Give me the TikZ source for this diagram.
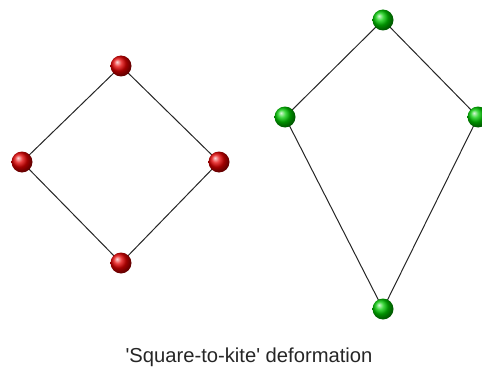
\documentclass[tikz,border=0pt]{standalone}
\usepackage{fontspec}
\setmainfont{Liberation Sans}
\usepackage{tikz}
\usetikzlibrary{positioning}

\begin{document}
\begin{tikzpicture}[
    x=1pt, y=-1pt,
    redball/.style={
        circle,
        minimum size=21pt,
        inner sep=0pt,
        ball color=red!90!black
    },
    greenball/.style={
        circle,
        minimum size=21pt,
        inner sep=0pt,
        ball color=green!80!black
    },
    edge/.style={
        draw=black!85,
        line width=1pt
    },
    caption/.style={
        font=\fontsize{20.2}{23}\selectfont,
        text=black!85,
        anchor=base
    }
]

    % Canvas
    \useasboundingbox (0,0) rectangle (482,369);
    \clip (0,0) rectangle (482,369);

    % Square (left)
    \coordinate (sqtop) at (121,66);
    \coordinate (sqleft) at (22,162);
    \coordinate (sqright) at (219,162);
    \coordinate (sqbottom) at (121,263);

    % Kite (right)
    \coordinate (kttop) at (383,20);
    \coordinate (ktleft) at (285,117);
    \coordinate (ktright) at (478,117);
    \coordinate (ktbottom) at (383,309);

    % Edges
    \draw[edge] (sqtop) -- (sqright) -- (sqbottom) -- (sqleft) -- cycle;
    \draw[edge] (kttop) -- (ktright) -- (ktbottom) -- (ktleft) -- cycle;

    % Vertices
    \node[redball] (r1) at (sqtop) {};
    \node[redball] (r2) at (sqleft) {};
    \node[redball] (r3) at (sqright) {};
    \node[redball] (r4) at (sqbottom) {};

    \node[greenball] (g1) at (kttop) {};
    \node[greenball] (g2) at (ktleft) {};
    \node[greenball] (g3) at (ktright) {};
    \node[greenball] (g4) at (ktbottom) {};

    % Caption
    \node[caption] (title) at (249,362) {\textquotesingle Square-to-kite\textquotesingle\ deformation};

\end{tikzpicture}
\end{document}
